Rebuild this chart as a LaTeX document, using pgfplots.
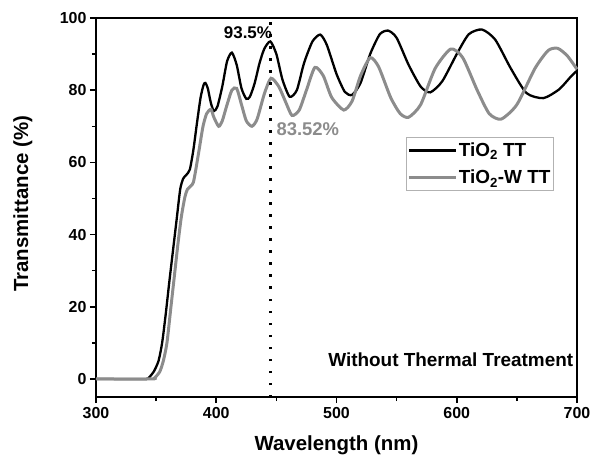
\documentclass[border=0pt]{standalone}
\usepackage{fontspec}
\setmainfont{Liberation Sans}
\usepackage{pgfplots}
\pgfplotsset{compat=1.18}
\definecolor{tgray}{RGB}{140,140,140}
\pgfplotstableread{
x y
300 0
341 0
344 0.4
348 2
352 5
355 10
358 18
361 27
364 35.5
367 44
370 52.5
372.5 55.5
375 56.5
378 58
381 63.5
384 71
387 78
389.5 81.5
391 82
393 80.5
395.5 76.5
398 74.2
401 75.5
405 81
409 88
413 90.4
417 87
421 80.5
425 77.6
428 78.2
432 82
436 87.5
440 91.5
445 93.5
450 90
455 83
461 78.2
467 80
473 87.5
480 93.5
486.5 95.4
492 92.5
500 84.5
507 79.5
513 78.7
520 82
528 90
536 95.5
543 96.5
550 94.5
560 87
570 81
578 79.4
588 82.5
600 90
610 95.5
621 96.8
632 94
645 86
658 79.2
672 77.8
685 80.2
695 83.8
700 85.4
}\tblack
\pgfplotstableread{
x y
300 0
346 0
349 0.4
353 2
356 5
359 10
362 19
365 28
368 37
371 45
374 50.5
376 52.5
379 53.5
381 54.5
383 58
386 64
389 70
392 73.5
395.6 74.7
398 72.5
402 70
405 71.5
409 76
413 80
417 80.5
421 76
425 71.5
429.7 70
434 72
440 79
445.5 83.3
452 81
458 76.5
463 73
469 74.5
475 80
482 86.3
489 84
496 78
506 74.5
513 77
520 84
528 89
535 86.5
545 78
553 73.5
560 72.5
570 76
582 86
595 91.4
605 89
617 80
627 73.5
637 72
650 76
665 86
676 91
684 91.6
692 89.5
700 85.8
}\tgrayd
\begin{document}
\begin{tikzpicture}
\begin{axis}[
  scale only axis, width=481bp, height=379bp,
  xmin=300, xmax=700, ymin=-5, ymax=100,
  xtick={300,400,...,700}, ytick={0,20,...,100},
  minor xtick={350,450,550,650}, minor ytick={10,30,50,70,90},
  xtick pos=bottom, ytick pos=left,
  tick align=outside, major tick length=6bp, minor tick length=4bp,
  every tick/.style={line width=1.5bp, black},
  axis line style={line width=1.8bp},
  /pgf/number format/assume math mode=true,
  tick label style={font=\bfseries\fontsize{16}{16}\selectfont},
  xticklabel style={yshift=-1bp},
  xlabel={\bfseries Wavelength (nm)}, ylabel={\bfseries Transmittance (\%)},
  label style={font=\bfseries\fontsize{20.5}{20.5}\selectfont},
  xlabel style={at={(axis description cs:0.5,-0.127)}, anchor=center},
  ylabel style={at={(axis description cs:-0.152,0.51)}, anchor=center},
  legend style={at={(rel axis cs:0.6445,0.686)}, anchor=north west,
    draw=gray!60, line width=0.6bp, font=\bfseries\fontsize{19}{19}\selectfont,
    inner xsep=1bp, inner ysep=4bp, row sep=9bp,
    nodes={inner sep=1.5bp}},
  legend cell align=left,
  legend image code/.code={\draw[#1, line width=3bp] (0bp,0bp) -- (47bp,0bp);},
  clip=false,
]
\addplot[black, line width=2.3bp, smooth, tension=0.4] table[x=x,y=y] {\tblack};
\addlegendentry{TiO\textsubscript{2} TT}
\addplot[tgray, line width=3bp, smooth, tension=0.4] table[x=x,y=y] {\tgrayd};
\addlegendentry{TiO\textsubscript{2}-W TT}
\addplot[black, line width=2.5bp, dash pattern=on 2.5bp off 9.5bp, forget plot] coordinates {(445,-5) (445,100)};
\node[anchor=east, font=\bfseries\fontsize{17}{17}\selectfont, inner sep=0pt] at (axis cs:446.5,96) {93.5\%};
\node[anchor=west, font=\bfseries\fontsize{18.5}{18.5}\selectfont, text=tgray, inner sep=0pt] at (axis cs:450,69.3) {83.52\%};
\node[anchor=east, font=\bfseries\fontsize{19}{19}\selectfont, inner sep=0pt] at (axis cs:697,5.2) {Without Thermal Treatment};
\end{axis}
\pgfresetboundingbox
\path[use as bounding box] (current axis.south west) ++(-96bp,-66bp) rectangle ++(590bp,463bp);
\end{tikzpicture}
\end{document}
